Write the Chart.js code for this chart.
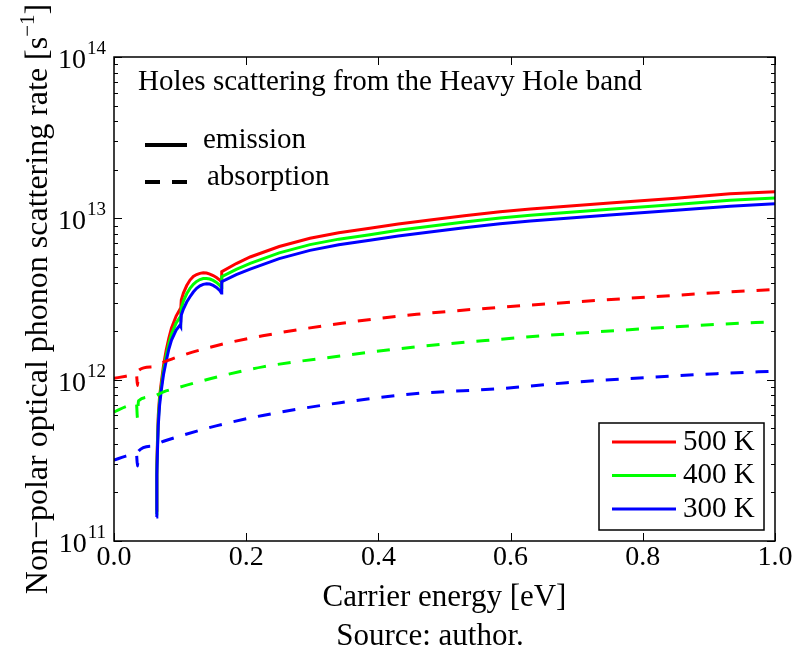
<!DOCTYPE html>
<html>
<head>
<meta charset="utf-8">
<script src="https://cdn.jsdelivr.net/npm/chart.js@4.4.1/dist/chart.umd.min.js"></script>
<style>
  body { margin: 0; background: #fff; }
  canvas { display: block; }
</style>
</head>
<body>
<canvas id="myChart" width="796" height="657"></canvas>
<script>
const emissionEnergy = [0.064, 0.0648, 0.0658, 0.067, 0.069, 0.0716, 0.075, 0.079, 0.083, 0.087, 0.094, 0.1, 0.1008, 0.1018, 0.105, 0.11, 0.115, 0.12, 0.125, 0.13, 0.135, 0.14, 0.145, 0.15, 0.155, 0.16, 0.1625, 0.163, 0.185, 0.206, 0.25, 0.2965, 0.34, 0.387, 0.43, 0.478, 0.53, 0.584, 0.63, 0.675, 0.75, 0.85, 0.932, 1.0];
const absorptionEnergy = [0, 0.018, 0.034, 0.0355, 0.037, 0.056, 0.075, 0.1, 0.156, 0.225, 0.342, 0.458, 0.584, 0.685, 0.912, 1.0];

// scattering rate [1/s], emission (solid)
const em500 = [1.55e11, 2.96e11, 4.22e11, 6.03e11, 7.91e11, 9.66e11, 1.232e12, 1.526e12, 1.811e12, 2.089e12, 2.48e12, 2.74e12, 2.663e12, 3.115e12, 3.443e12, 3.832e12, 4.145e12, 4.357e12, 4.483e12, 4.56e12, 4.593e12, 4.58e12, 4.515e12, 4.42e12, 4.295e12, 4.145e12, 4.028e12, 4.667e12, 5.246e12, 5.76e12, 6.69e12, 7.52e12, 8.13e12, 8.67e12, 9.22e12, 9.76e12, 1.038e13, 1.10e13, 1.142e13, 1.18e13, 1.244e13, 1.332e13, 1.42e13, 1.46e13];
const em400 = [1.469e11, 2.752e11, 3.93e11, 5.617e11, 7.47e11, 9.13e11, 1.155e12, 1.411e12, 1.674e12, 1.918e12, 2.243e12, 2.445e12, 2.376e12, 2.779e12, 3.071e12, 3.408e12, 3.681e12, 3.902e12, 4.062e12, 4.174e12, 4.234e12, 4.24e12, 4.204e12, 4.121e12, 4.005e12, 3.848e12, 3.724e12, 4.35e12, 4.83e12, 5.26e12, 6.11e12, 6.87e12, 7.43e12, 7.92e12, 8.43e12, 8.92e12, 9.48e12, 1.005e13, 1.044e13, 1.079e13, 1.137e13, 1.218e13, 1.294e13, 1.336e13];
const em300 = [1.407e11, 2.562e11, 3.661e11, 5.231e11, 6.957e11, 8.62e11, 1.083e12, 1.304e12, 1.548e12, 1.76e12, 2.03e12, 2.181e12, 2.15e12, 2.515e12, 2.74e12, 3.027e12, 3.266e12, 3.492e12, 3.681e12, 3.815e12, 3.897e12, 3.925e12, 3.914e12, 3.842e12, 3.734e12, 3.568e12, 3.443e12, 4.05e12, 4.48e12, 4.85e12, 5.63e12, 6.33e12, 6.85e12, 7.31e12, 7.77e12, 8.22e12, 8.74e12, 9.26e12, 9.62e12, 9.95e12, 1.048e13, 1.122e13, 1.19e13, 1.23e13];

// absorption (dashed)
const ab500 = [1.02e12, 1.05e12, 1.08e12, 0.92e12, 1.14e12, 1.2e12, 1.285e12, 1.40e12, 1.63e12, 1.87e12, 2.23e12, 2.54e12, 2.81e12, 3.01e12, 3.46e12, 3.63e12];
const ab400 = [6.3e11, 6.8e11, 7.1e11, 5.8e11, 7.4e11, 7.8e11, 8.4e11, 9.0e11, 1.04e12, 1.2e12, 1.40e12, 1.60e12, 1.78e12, 1.92e12, 2.20e12, 2.29e12];
const ab300 = [3.17e11, 3.36e11, 3.45e11, 2.92e11, 3.6e11, 3.87e11, 4.15e11, 4.47e11, 5.19e11, 6.0e11, 7.2e11, 8.2e11, 8.8e11, 9.57e11, 1.09e12, 1.13e12];

const tempLabels = ["500 K", "400 K", "300 K"];
const tempColors = ["#ff0000", "#00ff00", "#0000ff"];

const xTicks = [0, 0.2, 0.4, 0.6, 0.8, 1.0];
const xTickLabels = ["0.0", "0.2", "0.4", "0.6", "0.8", "1.0"];
const yExponents = [11, 12, 13, 14];
const yMinor = [2, 3, 4, 5, 6, 7, 8, 9];

const FONT = '"Liberation Serif", "Times New Roman", serif';

function pts(xs, ys) {
	return xs.map((x, i) => ({ x: x, y: ys[i] }));
}

function lineSet(data, color, dashed, order) {
	return {
		data: data,
		borderColor: color,
		borderWidth: 3,
		borderDash: dashed ? [13, 12] : [],
		pointRadius: 0,
		fill: false,
		tension: 0,
		// dashed ones are gentle enough for a smooth monotone curve
		cubicInterpolationMode: dashed ? "monotone" : "default",
		order: order,
	};
}

// axes box, ticks, labels and the two legends drawn Matlab-style
const axesPlugin = {
	id: "matlabAxes",
	beforeDraw(chart) {
		const ctx = chart.ctx;
		ctx.save();
		ctx.fillStyle = "#fff";
		ctx.fillRect(0, 0, chart.width, chart.height);
		ctx.restore();
	},
	afterDraw(chart) {
		const ctx = chart.ctx;
		const a = chart.chartArea;
		const xs = chart.scales.x;
		const ys = chart.scales.y;
		ctx.save();
		ctx.strokeStyle = "#000";
		ctx.fillStyle = "#000";

		// ticks
		ctx.lineWidth = 1;
		ctx.beginPath();
		xTicks.forEach((v) => {
			const px = Math.round(xs.getPixelForValue(v)) + 0.5;
			ctx.moveTo(px, a.bottom);
			ctx.lineTo(px, a.bottom - 8);
			ctx.moveTo(px, a.top);
			ctx.lineTo(px, a.top + 8);
		});
		yExponents.forEach((e) => {
			const py = Math.round(ys.getPixelForValue(Math.pow(10, e))) + 0.5;
			ctx.moveTo(a.left, py);
			ctx.lineTo(a.left + 8, py);
			ctx.moveTo(a.right, py);
			ctx.lineTo(a.right - 8, py);
			if (e < 14) {
				yMinor.forEach((m) => {
					const q = Math.round(ys.getPixelForValue(m * Math.pow(10, e))) + 0.5;
					ctx.moveTo(a.left, q);
					ctx.lineTo(a.left + 4, q);
					ctx.moveTo(a.right, q);
					ctx.lineTo(a.right - 4, q);
				});
			}
		});
		ctx.stroke();

		// box
		ctx.lineWidth = 1.5;
		ctx.strokeRect(a.left, a.top, a.right - a.left, a.bottom - a.top);

		// x tick labels
		ctx.font = "28px " + FONT;
		ctx.textAlign = "center";
		ctx.textBaseline = "middle";
		xTicks.forEach((v, i) => {
			ctx.fillText(xTickLabels[i], xs.getPixelForValue(v), a.bottom + 17);
		});

		// y tick labels 10^n
		yExponents.forEach((e) => {
			const py = ys.getPixelForValue(Math.pow(10, e));
			ctx.font = "19px " + FONT;
			ctx.textAlign = "left";
			ctx.textBaseline = "alphabetic";
			const ew = ctx.measureText(String(e)).width;
			const right = a.left - 8;
			ctx.fillText(String(e), right - ew, py - 3);
			ctx.font = "28px " + FONT;
			ctx.textAlign = "right";
			ctx.fillText("10", right - ew - 1, py + 11);
		});

		// x title
		ctx.font = "31px " + FONT;
		ctx.textAlign = "center";
		ctx.textBaseline = "middle";
		ctx.fillText("Carrier energy [eV]", (a.left + a.right) / 2, 598);

		// y title with superscript
		ctx.save();
		ctx.translate(47, (a.top + a.bottom) / 2);
		ctx.rotate(-Math.PI / 2);
		ctx.textBaseline = "alphabetic";
		ctx.textAlign = "left";
		const t1 = "Non\u2212polar optical phonon scattering rate [s";
		const t2 = "\u22121";
		const t3 = "]";
		ctx.font = "32px " + FONT;
		const w1 = ctx.measureText(t1).width;
		const w3 = ctx.measureText(t3).width;
		ctx.font = "21px " + FONT;
		const w2 = ctx.measureText(t2).width;
		const total = w1 + w2 + w3;
		let x0 = -total / 2;
		ctx.font = "32px " + FONT;
		ctx.fillText(t1, x0, 0);
		ctx.font = "21px " + FONT;
		ctx.fillText(t2, x0 + w1, -13);
		ctx.font = "32px " + FONT;
		ctx.fillText(t3, x0 + w1 + w2, 0);
		ctx.restore();

		// source
		ctx.font = "31px " + FONT;
		ctx.textAlign = "center";
		ctx.textBaseline = "middle";
		ctx.fillText("Source: author.", 430, 637);

		// annotation + line style legend
		ctx.font = "29px " + FONT;
		ctx.textAlign = "left";
		ctx.fillText("Holes scattering from the Heavy Hole band", 138, 82);
		ctx.fillText("emission", 203, 140);
		ctx.fillText("absorption", 207, 177);
		ctx.lineWidth = 4;
		ctx.beginPath();
		ctx.moveTo(145, 145);
		ctx.lineTo(187, 145);
		ctx.moveTo(145, 182);
		ctx.lineTo(160, 182);
		ctx.moveTo(172, 182);
		ctx.lineTo(187, 182);
		ctx.stroke();

		// temperature legend
		ctx.fillStyle = "#fff";
		ctx.fillRect(599, 423, 165, 107);
		ctx.lineWidth = 1.5;
		ctx.strokeRect(599, 423, 165, 107);
		ctx.lineWidth = 3;
		tempLabels.forEach((lab, i) => {
			const y = 442 + i * 33.5;
			ctx.strokeStyle = tempColors[i];
			ctx.beginPath();
			ctx.moveTo(612, y);
			ctx.lineTo(676, y);
			ctx.stroke();
			ctx.fillStyle = "#000";
			ctx.fillText(lab, 683, y);
		});
		ctx.restore();
	},
};

const ctx = document.getElementById("myChart").getContext("2d");
const myChart = new Chart(ctx, {
	type: "line",
	data: {
		datasets: [
			lineSet(pts(emissionEnergy, em500), tempColors[0], false, 6),
			lineSet(pts(emissionEnergy, em400), tempColors[1], false, 5),
			lineSet(pts(emissionEnergy, em300), tempColors[2], false, 4),
			lineSet(pts(absorptionEnergy, ab500), tempColors[0], true, 3),
			lineSet(pts(absorptionEnergy, ab400), tempColors[1], true, 2),
			lineSet(pts(absorptionEnergy, ab300), tempColors[2], true, 1),
		],
	},
	options: {
		responsive: false,
		animation: false,
		devicePixelRatio: 1,
		layout: { padding: { left: 114, right: 21, top: 57, bottom: 116 } },
		plugins: { legend: { display: false }, tooltip: { enabled: false } },
		scales: {
			x: { type: "linear", min: 0, max: 1, display: false },
			y: { type: "logarithmic", min: 1e11, max: 1e14, display: false },
		},
	},
	plugins: [axesPlugin],
});
</script>
</body>
</html>
